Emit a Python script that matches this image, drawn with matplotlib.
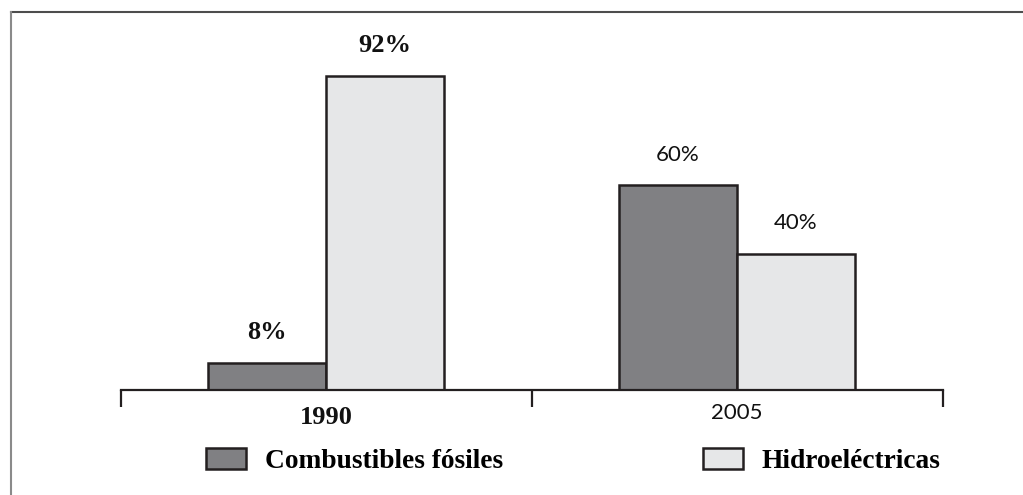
import matplotlib

matplotlib.use("Agg")

import matplotlib.pyplot as plt
import numpy as np
from matplotlib.lines import Line2D
from matplotlib.patches import Patch


YEARS = ["1990", "2005"]
SERIES = ["Combustibles fósiles", "Hidroeléctricas"]
FOSSIL = [8, 60]
HYDRO = [92, 40]

COLORS = ["#808083", "#e6e7e8"]
EDGE = "#231f20"
SERIF = ["Liberation Serif", "DejaVu Serif"]
SANS = ["Lato", "DejaVu Sans"]
BOLD_YEAR = {"1990": True, "2005": False}


def main() -> None:
    width_px, height_px = 1023, 495
    figure = plt.figure(figsize=(width_px / 100, height_px / 100), dpi=100)

    # axes spans full width; baseline at pixel row 390, 100% ~ 341 px
    bottom = (height_px - 390) / height_px
    axis = figure.add_axes([0, bottom, 1, 341 / height_px])
    axis.set_xlim(-326 / 411, (width_px - 326) / 411)
    axis.set_ylim(0, 100)

    positions = np.arange(len(YEARS))
    bar_width = 0.287

    for offset, values, color in zip(
        (-0.5, 0.5),
        (FOSSIL, HYDRO),
        COLORS,
        strict=True,
    ):
        bars = axis.bar(
            positions + offset * bar_width,
            values,
            width=bar_width,
            color=color,
            edgecolor=EDGE,
            linewidth=1.8,
            zorder=2,
        )
        for bar, value, year in zip(bars, values, YEARS, strict=True):
            bold = BOLD_YEAR[year]
            axis.annotate(
                f"{value}%",
                (bar.get_x() + bar.get_width() / 2, bar.get_height()),
                xytext=(0, 22),
                textcoords="offset points",
                ha="center",
                va="center",
                fontsize=19 if bold else 16,
                fontweight="bold" if bold else "normal",
                family=SERIF if bold else SANS,
                color="#111111",
            )

    for side in ("top", "right", "left"):
        axis.spines[side].set_visible(False)
    axis.spines["bottom"].set_bounds(-0.5, len(YEARS) - 0.5)
    axis.spines["bottom"].set_linewidth(1.6)
    axis.spines["bottom"].set_color(EDGE)
    axis.spines["bottom"].set_zorder(3)
    axis.set_yticks([])
    axis.set_xticks(np.arange(len(YEARS) + 1) - 0.5)
    axis.set_xticklabels([])
    axis.tick_params(
        axis="x",
        direction="out",
        length=12,
        width=1.6,
        color=EDGE,
    )

    for position, year in zip(positions, YEARS, strict=True):
        bold = BOLD_YEAR[year]
        axis.text(
            position,
            -8.0 if bold else -6.8,
            year,
            ha="center",
            va="center",
            fontsize=19 if bold else 16,
            fontweight="bold" if bold else "normal",
            family=SERIF if bold else SANS,
            color="#111111",
        )

    handles = [
        Patch(facecolor=color, edgecolor=EDGE, linewidth=1.8, label=label)
        for color, label in zip(COLORS, SERIES, strict=True)
    ]
    figure.legend(
        handles=handles,
        ncol=2,
        loc="center left",
        bbox_to_anchor=(206 / width_px, (height_px - 461) / height_px),
        frameon=False,
        borderpad=0,
        borderaxespad=0,
        handlelength=1.46,
        handleheight=0.8,
        handletextpad=0.69,
        columnspacing=7.3,
        prop={"family": SERIF, "weight": "bold", "size": 19.7},
    )

    # frame lines along the top and left edge
    top_y = 1 - 12 / height_px
    left_x = 11 / width_px
    figure.add_artist(
        Line2D([left_x, 1], [top_y, top_y], color="#4d4d4d", linewidth=1.5)
    )
    figure.add_artist(
        Line2D([left_x, left_x], [0, top_y], color="#8a8a8a", linewidth=1.5)
    )

    figure.savefig("out.png", dpi=100)


if __name__ == "__main__":
    main()
